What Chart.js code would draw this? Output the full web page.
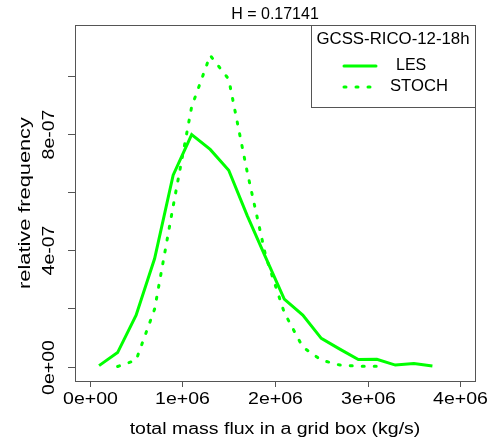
<!DOCTYPE html>
<html>
<head>
<meta charset="utf-8">
<script src="https://cdn.jsdelivr.net/npm/chart.js@4.4.1/dist/chart.umd.min.js"></script>
<style>
  html, body { margin: 0; padding: 0; background: #fff; }
  #wrap { width: 491px; height: 441px; }
</style>
</head>
<body>
<div id="wrap"><canvas id="massFluxChart" width="491" height="441"></canvas></div>
<script>
// mass flux bins (kg/s) and relative frequencies
const lesX = [1e5, 3e5, 5e5, 7e5, 9e5, 1.1e6, 1.3e6, 1.5e6, 1.7e6, 1.9e6,
              2.1e6, 2.3e6, 2.5e6, 2.7e6, 2.9e6, 3.1e6, 3.3e6, 3.5e6, 3.7e6];
const lesFreq = [0.003e-6, 0.048e-6, 0.177e-6, 0.372e-6, 0.659e-6, 0.799e-6, 0.748e-6, 0.676e-6, 0.52e-6, 0.375e-6,
                 0.232e-6, 0.177e-6, 0.097e-6, 0.060e-6, 0.024e-6, 0.025e-6, 0.005e-6, 0.010e-6, 0.002e-6];

const stochX = [3e5, 5e5, 7e5, 9e5, 1.1e6, 1.3e6, 1.5e6, 1.7e6, 1.9e6,
                2.1e6, 2.3e6, 2.5e6, 2.7e6, 2.9e6, 3.1e6];
const stochFreq = [0.0, 0.022e-6, 0.198e-6, 0.552e-6, 0.895e-6, 1.072e-6, 0.99e-6, 0.67e-6, 0.38e-6,
                   0.186e-6, 0.067e-6, 0.022e-6, 0.005e-6, 0.001e-6, 0.001e-6];

const xTicks = [0, 1e6, 2e6, 3e6, 4e6];
const xTickLabels = ["0e+00", "1e+06", "2e+06", "3e+06", "4e+06"];
const yTicks = [0, 2e-7, 4e-7, 6e-7, 8e-7, 1e-6];
const yTickLabels = ["0e+00", "", "4e-07", "", "8e-07", ""];

const titleText = "H = 0.17141";
const legendTitle = "GCSS-RICO-12-18h";
const seriesNames = ["LES", "STOCH"];
const xTitle = "total mass flux in a grid box (kg/s)";
const yTitle = "relative frequency";

const GREEN = "#00ff00";
const FONT = "'Liberation Sans', Arial, sans-serif";

// text with a horizontal stretch (the reference glyphs are wider than Arial)
function drawText(ctx, text, x, y, size, stretch, angle, align) {
  ctx.save();
  ctx.translate(x, y);
  if (angle) ctx.rotate(angle);
  ctx.scale(stretch, 1);
  ctx.font = size + "px " + FONT;
  ctx.textAlign = align || "center";
  ctx.textBaseline = "middle";
  ctx.fillText(text, 0, 0);
  ctx.restore();
}

// R-style frame, ticks, labels and legend box
const rFrame = {
  id: "rFrame",
  afterDraw(chart) {
    const ctx = chart.ctx;
    const a = chart.chartArea;
    const xs = chart.scales.x;
    const ys = chart.scales.y;
    ctx.save();

    // plot box
    ctx.strokeStyle = "#555";
    ctx.lineWidth = 1;
    ctx.strokeRect(Math.round(a.left) + 0.5, Math.round(a.top) + 0.5,
                   Math.round(a.right - a.left), Math.round(a.bottom - a.top));

    ctx.fillStyle = "#000";

    // x axis ticks
    xTicks.forEach((v, i) => {
      const px = Math.round(xs.getPixelForValue(v)) + 0.5;
      ctx.beginPath();
      ctx.moveTo(px, a.bottom);
      ctx.lineTo(px, a.bottom + 6);
      ctx.stroke();
      drawText(ctx, xTickLabels[i], px, a.bottom + 19, 16, 1.22);
    });

    // y axis ticks (labels rotated like R)
    yTicks.forEach((v, i) => {
      const py = Math.round(ys.getPixelForValue(v)) + 0.5;
      ctx.beginPath();
      ctx.moveTo(a.left - 7, py);
      ctx.lineTo(a.left, py);
      ctx.stroke();
      if (yTickLabels[i]) {
        drawText(ctx, yTickLabels[i], a.left - 25, py, 16, 1.22, -Math.PI / 2);
      }
    });

    // axis titles
    drawText(ctx, xTitle, (a.left + a.right) / 2, 430, 16, 1.22);
    drawText(ctx, yTitle, 26, (a.top + a.bottom) / 2, 16, 1.36, -Math.PI / 2);

    // main title
    drawText(ctx, titleText, (a.left + a.right) / 2, 15, 16, 1.0);

    // legend
    const lx = 311.5, ly = Math.round(a.top) + 0.5;
    ctx.strokeRect(lx, ly, Math.round(a.right) - lx + 0.5, 82);
    drawText(ctx, legendTitle, 393, 40, 16, 1.05);

    ctx.strokeStyle = GREEN;
    ctx.lineWidth = 3;
    ctx.lineCap = "round";
    ctx.beginPath();
    ctx.moveTo(344, 66);
    ctx.lineTo(376, 66);
    ctx.stroke();
    ctx.setLineDash([2, 10]);
    ctx.beginPath();
    ctx.moveTo(344, 87);
    ctx.lineTo(376, 87);
    ctx.stroke();
    ctx.setLineDash([]);

    drawText(ctx, seriesNames[0], 396, 66, 16, 1.0, 0, "left");
    drawText(ctx, seriesNames[1], 390, 87, 16, 1.04, 0, "left");

    ctx.restore();
  }
};

const toPoints = (xv, yv) => xv.map((x, i) => ({ x: x, y: yv[i] }));

new Chart(document.getElementById("massFluxChart").getContext("2d"), {
  type: "line",
  data: {
    datasets: [
      {
        label: seriesNames[0],
        data: toPoints(lesX, lesFreq),
        borderColor: GREEN,
        borderWidth: 3,
        pointRadius: 0,
        tension: 0,
        fill: false
      },
      {
        label: seriesNames[1],
        data: toPoints(stochX, stochFreq),
        borderColor: GREEN,
        borderWidth: 3,
        borderDash: [2, 10],
        borderCapStyle: "round",
        pointRadius: 0,
        tension: 0,
        fill: false
      }
    ]
  },
  options: {
    responsive: false,
    animation: false,
    layout: { padding: { left: 75, top: 25, right: 16, bottom: 60 } },
    plugins: {
      legend: { display: false },
      tooltip: { enabled: false }
    },
    scales: {
      x: { type: "linear", min: -0.16e6, max: 4.16e6, display: false },
      y: { type: "linear", min: -0.0499e-6, max: 1.1766e-6, display: false }
    }
  },
  plugins: [rFrame]
});
</script>
</body>
</html>
